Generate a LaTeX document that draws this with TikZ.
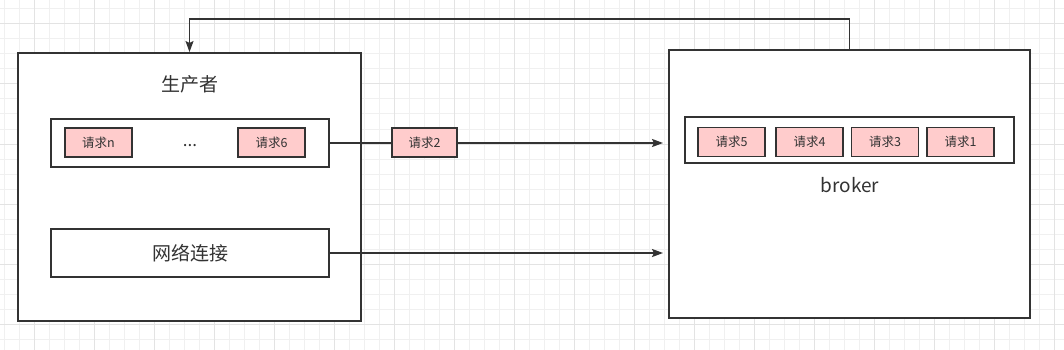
\documentclass[tikz,border=0pt]{standalone}
\usepackage{fontspec}
\setmainfont{Noto Sans CJK SC}
\usepackage{xcolor}
\usepackage{tikz}
\usetikzlibrary{positioning, arrows.meta, calc}

\definecolor{linec}{HTML}{333333}
\definecolor{reqfill}{HTML}{FFCCCC}
\definecolor{gridminor}{HTML}{F0F0F0}
\definecolor{gridmajor}{HTML}{E3E3E3}

\tikzset{
  outerbox/.style={
    draw=linec, fill=white, line width=2pt,
    minimum width=#1, inner sep=0pt
  },
  queuebox/.style={
    draw=linec, fill=white, line width=2pt,
    minimum height=48pt, inner sep=0pt
  },
  reqbox/.style={
    draw=linec, fill=reqfill, line width=1.6pt,
    minimum width=67pt, minimum height=29pt, inner sep=0pt,
    text=linec, font=\fontsize{12.5}{14}\selectfont
  },
  txtlabel/.style={text=linec, font=\fontsize{19}{22}\selectfont, inner sep=0pt},
  arrow/.style={-{Stealth[length=11pt,width=8pt,inset=2pt]}, draw=linec, line width=1.8pt}
}

\begin{document}
\begin{tikzpicture}[x=1pt, y=-1pt]
\useasboundingbox (0,0) rectangle (1064,350);

%% Background grid
\fill[white] (0,0) rectangle (1064,350);
\foreach \gx in {4,19,...,1054}
  \draw[gridminor, line width=1pt] (\gx,0) -- (\gx,350);
\foreach \gy in {9,24,...,339}
  \draw[gridminor, line width=1pt] (0,\gy) -- (1064,\gy);
\foreach \gx in {34,94,...,1054}
  \draw[gridmajor, line width=1pt] (\gx,0) -- (\gx,350);
\foreach \gy in {24,84,...,324}
  \draw[gridmajor, line width=1pt] (0,\gy) -- (1064,\gy);

%% Producer
\node[outerbox=343pt, minimum height=268pt] (producer) at (189.5,187) {};
\node[txtlabel] (ptitle) at (190,84) {生产者};
\node[queuebox, minimum width=278pt] (lq) at (190,143) {};
\node[reqbox] (reqn) at (98.5,142.5) {请求n};
\node[txtlabel, font=\fontsize{17}{19}\selectfont] (dots) at (190,146) {...};
\node[reqbox] (req6) at (271.5,142.5) {请求6};
\node[queuebox, minimum width=278pt, txtlabel] (net) at (190,253) {网络连接};

%% Broker
\node[outerbox=361pt, minimum height=268pt] (broker) at (849.5,184) {};
\node[queuebox, minimum width=329pt, minimum height=46pt] (rq) at (849.5,140) {};
\node[reqbox] (req5) at (731.5,142) {请求5};
\node[reqbox] (req4) at (809.5,142) {请求4};
\node[reqbox] (req3) at (885,142) {请求3};
\node[reqbox] (req1) at (960.5,142) {请求1};
\node[txtlabel] (blabel) at (850,185) {broker};

%% Connections
\draw[arrow, shorten >=5pt] (lq.east) -- (lq.east -| broker.west);
\node[reqbox, minimum width=65pt] (req2) at (424.5,142.5) {请求2};
\draw[arrow, shorten >=5pt] (net.east) -- (net.east -| broker.west);
\draw[arrow] (broker.north) -- ++(0,-30) -| (producer.north);
\end{tikzpicture}
\end{document}
